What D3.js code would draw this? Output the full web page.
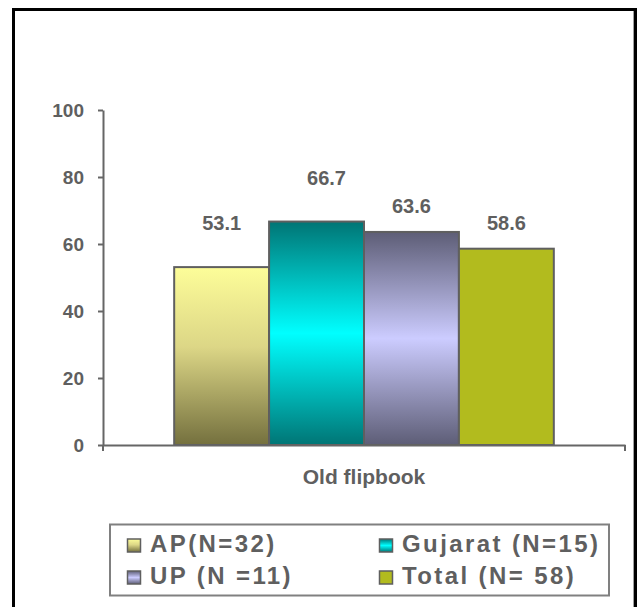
<!DOCTYPE html>
<html>
<head>
<meta charset="utf-8">
<script src="https://cdn.jsdelivr.net/npm/d3@7"></script>
<style>
  html, body { margin: 0; padding: 0; background: #fff; }
  svg { display: block; }
  text { font-family: "Liberation Sans", Arial, sans-serif; font-weight: bold; fill: #5f5f5f; }
</style>
</head>
<body>
<svg id="chart" width="637" height="607"></svg>
<script>
// Share of respondents (%) for the old flipbook, by state
const categories = ["Old flipbook"];
const seriesNames = ["AP(N=32)", "Gujarat (N=15)", "UP (N =11)", "Total (N= 58)"];
const values = [53.1, 66.7, 63.6, 58.6];
const yTicks = [0, 20, 40, 60, 80, 100];

const svg = d3.select("#chart");

// fills: vertical shaded gradients for three series, flat for the total
const fills = [
  { id: "gAP", stops: [[0, "#fdfd99"], [0.45, "#dcd686"], [1, "#74703e"]] },
  { id: "gGuj", stops: [[0, "#007575"], [0.5, "#00ffff"], [1, "#007575"]] },
  { id: "gUP", stops: [[0, "#5d5d76"], [0.5, "#ccccff"], [1, "#5d5d76"]] },
  { id: "gTot", stops: [[0, "#b2bb1e"], [1, "#b2bb1e"]] }
];
const defs = svg.append("defs");
fills.forEach(f => {
  const g = defs.append("linearGradient").attr("id", f.id)
    .attr("x1", 0).attr("y1", 0).attr("x2", 0).attr("y2", 1);
  f.stops.forEach(s => g.append("stop").attr("offset", s[0]).attr("stop-color", s[1]));
});
const fillOf = i => `url(#${fills[i].id})`;

// outer frame
svg.append("rect")
  .attr("x", 13.5).attr("y", 9.5).attr("width", 622).attr("height", 640)
  .attr("fill", "none").attr("stroke", "#000").attr("stroke-width", 3);
svg.append("line")
  .attr("x1", 633.5).attr("x2", 633.5).attr("y1", 11).attr("y2", 607)
  .attr("stroke", "#a0a0a0").attr("stroke-width", 1);

// scales
const y = d3.scaleLinear().domain([0, 100]).range([445, 110]);
const x0 = d3.scaleBand().domain(categories).range([103, 625]);
const x1 = d3.scaleBand().domain(seriesNames).range([0, x0.bandwidth()])
  .paddingInner(0).paddingOuter(0.75);

const axisColor = "#666";

// bars
const grp = svg.append("g").attr("transform", `translate(${x0(categories[0])},0)`);
grp.selectAll("rect.bar").data(values).join("rect")
  .attr("class", "bar")
  .attr("x", (d, i) => x1(seriesNames[i]))
  .attr("y", d => y(d))
  .attr("width", x1.bandwidth())
  .attr("height", d => y(0) - y(d))
  .attr("fill", (d, i) => fillOf(i))
  .attr("stroke", "#5f5f5f").attr("stroke-width", 2);

// value labels, staggered above the bars
grp.selectAll("text.val").data(values).join("text")
  .attr("class", "val")
  .attr("x", (d, i) => x1(seriesNames[i]) + x1.bandwidth() / 2 + (i === 1 ? 10 : 0))
  .attr("y", (d, i) => y(d) - (i < 2 ? 37 : 19))
  .attr("text-anchor", "middle")
  .style("font-size", "20px")
  .text(d => d.toFixed(1));

// y axis
const yAxis = svg.append("g").attr("transform", "translate(103,0)")
  .call(d3.axisLeft(y).tickValues(yTicks).tickSize(5).tickPadding(14).tickSizeOuter(0));
yAxis.select(".domain").attr("stroke", axisColor).attr("stroke-width", 2);
yAxis.selectAll(".tick line").attr("stroke", axisColor).attr("stroke-width", 2);
yAxis.selectAll(".tick text").style("font-size", "19px").attr("fill", "#5f5f5f");

// x axis
const xAxis = svg.append("g").attr("transform", `translate(0,${y(0)})`)
  .call(d3.axisBottom(x0).tickSize(0).tickPadding(24).tickSizeOuter(0));
xAxis.select(".domain").attr("stroke", axisColor).attr("stroke-width", 2);
xAxis.selectAll(".tick text").style("font-size", "21px").attr("fill", "#5f5f5f");
xAxis.selectAll("line.edge").data(x0.range()).join("line")
  .attr("class", "edge")
  .attr("x1", d => d).attr("x2", d => d).attr("y1", 0).attr("y2", 6)
  .attr("stroke", axisColor).attr("stroke-width", 2);

// legend
const legend = svg.append("g");
legend.append("rect")
  .attr("x", 110).attr("y", 524.5).attr("width", 499).attr("height", 71)
  .attr("fill", "#fff").attr("stroke", "#808080").attr("stroke-width", 2);
const legendItems = legend.selectAll("g.item").data(seriesNames).join("g")
  .attr("class", "item")
  .attr("transform", (d, i) => `translate(${i % 2 === 0 ? 127 : 379},${i < 2 ? 552 : 584})`);
legendItems.append("rect")
  .attr("x", 0.5).attr("y", -13).attr("width", 13).attr("height", 13)
  .attr("fill", (d, i) => fillOf(i))
  .attr("stroke", "#5f5f5f").attr("stroke-width", 1.5);
legendItems.append("text")
  .attr("x", 23).attr("y", 0)
  .style("font-size", "24px").style("letter-spacing", "2.4px")
  .text(d => d);
</script>
</body>
</html>
